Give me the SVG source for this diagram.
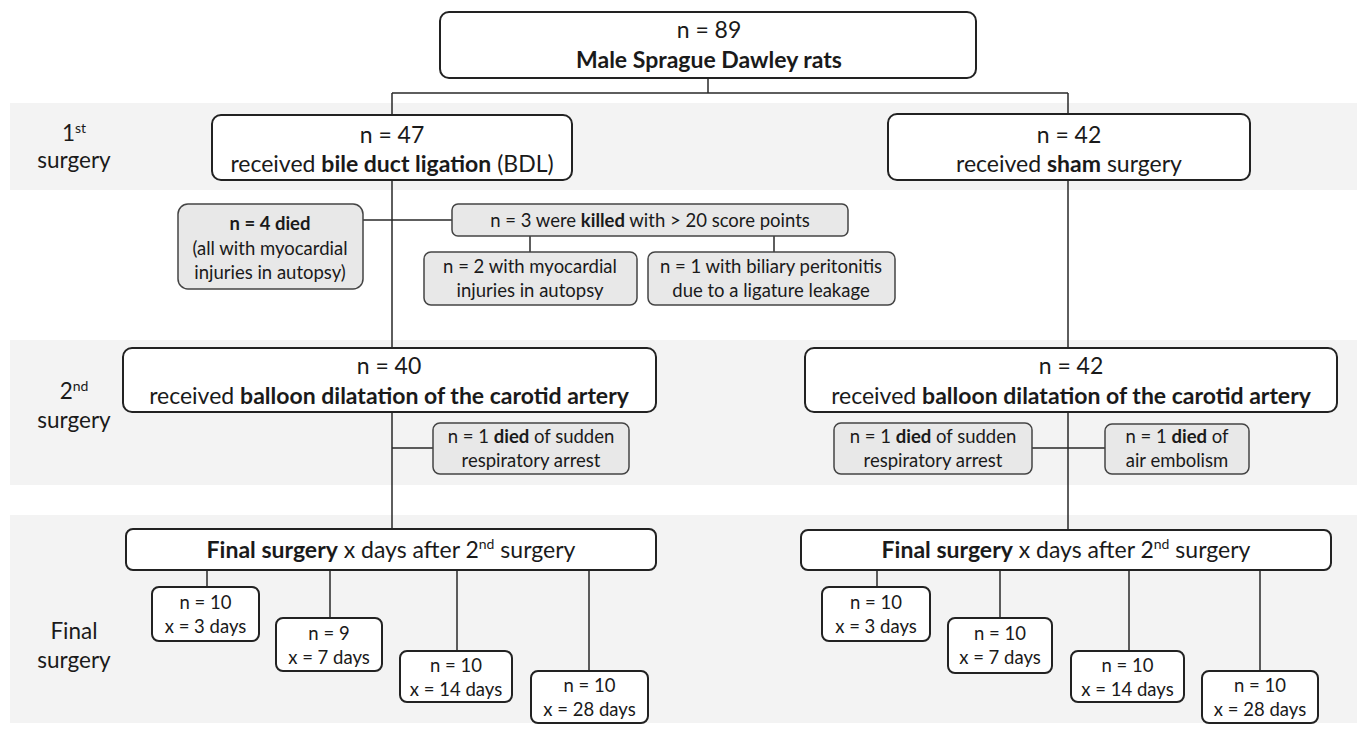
<svg xmlns="http://www.w3.org/2000/svg" width="1357" height="734" viewBox="0 0 1357 734">
<style>
.band{fill:#f3f3f3}
.wb{fill:#fff;stroke:#222;stroke-width:2}
.gb{fill:#e8e8e8;stroke:#444;stroke-width:1.5}
.t{font-family:Lato,"Liberation Sans",sans-serif;fill:#1a1a1a;text-anchor:middle}
.big{font-size:23px}
.med{font-size:22.5px}
.sm{font-size:18.5px}
.b{font-weight:bold}
.c{stroke:#2a2a2a;stroke-width:1.5;fill:none}
</style>
<rect width="1357" height="734" fill="#fff"/>
<g id="bands">
<rect class="band" x="10" y="103" width="1347" height="87"/>
<rect class="band" x="10" y="340" width="1347" height="145"/>
<rect class="band" x="10" y="515" width="1347" height="208"/>
</g>
<g id="labels">
<text class="t med" x="74" y="141">1<tspan font-size="14" dy="-8">st</tspan></text>
<text class="t med" x="74" y="168">surgery</text>
<text class="t med" x="74" y="399">2<tspan font-size="14" dy="-8">nd</tspan></text>
<text class="t med" x="74" y="428">surgery</text>
<text class="t med" x="74" y="639">Final</text>
<text class="t med" x="74" y="668">surgery</text>
</g>
<g id="connectors">
<path class="c" d="M708 78V93M392 93H1068M392 93V115M1068 93V114"/>
<path class="c" d="M392 180V348M363 220H452M530 236V252M774 236V252"/>
<path class="c" d="M392 412V529M392 448H433"/>
<path class="c" d="M1068 180V348M1068 412V530M1032 448H1105"/>
<path class="c" d="M207 570V587M330 570V618M457 570V651M589 570V671"/>
<path class="c" d="M877 570V587M1000 570V618M1129 570V651M1260 570V671"/>
</g>
<g id="n-top">
<rect class="wb" x="440" y="12" width="536" height="66" rx="9"/>
<text class="t big" x="709" y="38">n = 89</text>
<text class="t big b" x="709" y="68">Male Sprague Dawley rats</text>
</g>
<g id="n-bdl">
<rect class="wb" x="212" y="115" width="360" height="65" rx="9"/>
<text class="t big" x="392" y="143">n = 47</text>
<text class="t big" x="392" y="172">received <tspan class="b">bile duct ligation</tspan> (BDL)</text>
</g>
<g id="n-sham">
<rect class="wb" x="888" y="114" width="362" height="66" rx="9"/>
<text class="t big" x="1069" y="143">n = 42</text>
<text class="t big" x="1069" y="172">received <tspan class="b">sham</tspan> surgery</text>
</g>
<g id="n-died4">
<rect class="gb" x="178" y="204" width="185" height="85" rx="10"/>
<text class="t sm b" x="270" y="230">n = 4 died</text>
<text class="t sm" x="270" y="255">(all with myocardial</text>
<text class="t sm" x="270" y="279">injuries in autopsy)</text>
</g>
<g id="n-killed3">
<rect class="gb" x="452" y="204" width="396" height="32" rx="6"/>
<text class="t sm" x="650" y="227">n = 3 were <tspan class="b">killed</tspan> with &gt; 20 score points</text>
</g>
<g id="n-myo2">
<rect class="gb" x="424" y="252" width="213" height="53" rx="7"/>
<text class="t sm" x="530" y="273">n = 2 with myocardial</text>
<text class="t sm" x="530" y="297">injuries in autopsy</text>
</g>
<g id="n-bil1">
<rect class="gb" x="648" y="252" width="247" height="53" rx="7"/>
<text class="t sm" x="771" y="273">n = 1 with biliary peritonitis</text>
<text class="t sm" x="771" y="297">due to a ligature leakage</text>
</g>
<g id="n-balloon-l">
<rect class="wb" x="123" y="348" width="533" height="64" rx="9"/>
<text class="t big" x="389" y="374">n = 40</text>
<text class="t big" x="389" y="404">received <tspan class="b">balloon dilatation of the carotid artery</tspan></text>
</g>
<g id="n-resp-l">
<rect class="gb" x="433" y="423" width="196" height="51" rx="7"/>
<text class="t sm" x="531" y="443">n = 1 <tspan class="b">died</tspan> of sudden</text>
<text class="t sm" x="531" y="467">respiratory arrest</text>
</g>
<g id="n-balloon-r">
<rect class="wb" x="805" y="348" width="532" height="64" rx="9"/>
<text class="t big" x="1071" y="374">n = 42</text>
<text class="t big" x="1071" y="404">received <tspan class="b">balloon dilatation of the carotid artery</tspan></text>
</g>
<g id="n-resp-r">
<rect class="gb" x="834" y="423" width="198" height="51" rx="7"/>
<text class="t sm" x="933" y="443">n = 1 <tspan class="b">died</tspan> of sudden</text>
<text class="t sm" x="933" y="467">respiratory arrest</text>
</g>
<g id="n-air-r">
<rect class="gb" x="1105" y="424" width="144" height="50" rx="7"/>
<text class="t sm" x="1177" y="443">n = 1 <tspan class="b">died</tspan> of</text>
<text class="t sm" x="1177" y="467">air embolism</text>
</g>
<g id="n-final-l">
<rect class="wb" x="126" y="529" width="530" height="41" rx="7"/>
<text class="t big" x="391" y="558"><tspan class="b">Final surgery</tspan> x days after 2<tspan font-size="14" dy="-9">nd</tspan><tspan dy="9"> surgery</tspan></text>
</g>
<g id="n-final-r">
<rect class="wb" x="801" y="530" width="530" height="40" rx="7"/>
<text class="t big" x="1066" y="558"><tspan class="b">Final surgery</tspan> x days after 2<tspan font-size="14" dy="-9">nd</tspan><tspan dy="9"> surgery</tspan></text>
</g>
<g id="n-l3">
<rect class="wb" x="152" y="587" width="107" height="54" rx="7"/>
<text class="t sm" x="205.5" y="609">n = 10</text>
<text class="t sm" x="205.5" y="633">x = 3 days</text>
</g>
<g id="n-l7">
<rect class="wb" x="276" y="618" width="106" height="53" rx="7"/>
<text class="t sm" x="329" y="640">n = 9</text>
<text class="t sm" x="329" y="664">x = 7 days</text>
</g>
<g id="n-l14">
<rect class="wb" x="400" y="651" width="112" height="51" rx="7"/>
<text class="t sm" x="456" y="672">n = 10</text>
<text class="t sm" x="456" y="696">x = 14 days</text>
</g>
<g id="n-l28">
<rect class="wb" x="531" y="671" width="117" height="52" rx="7"/>
<text class="t sm" x="589.5" y="692">n = 10</text>
<text class="t sm" x="589.5" y="716">x = 28 days</text>
</g>
<g id="n-r3">
<rect class="wb" x="822" y="587" width="108" height="54" rx="7"/>
<text class="t sm" x="876" y="609">n = 10</text>
<text class="t sm" x="876" y="633">x = 3 days</text>
</g>
<g id="n-r7">
<rect class="wb" x="948" y="618" width="104" height="55" rx="7"/>
<text class="t sm" x="1000" y="640">n = 10</text>
<text class="t sm" x="1000" y="664">x = 7 days</text>
</g>
<g id="n-r14">
<rect class="wb" x="1071" y="651" width="113" height="51" rx="7"/>
<text class="t sm" x="1127.5" y="672">n = 10</text>
<text class="t sm" x="1127.5" y="696">x = 14 days</text>
</g>
<g id="n-r28">
<rect class="wb" x="1202" y="671" width="116" height="52" rx="7"/>
<text class="t sm" x="1260" y="692">n = 10</text>
<text class="t sm" x="1260" y="716">x = 28 days</text>
</g>
</svg>
